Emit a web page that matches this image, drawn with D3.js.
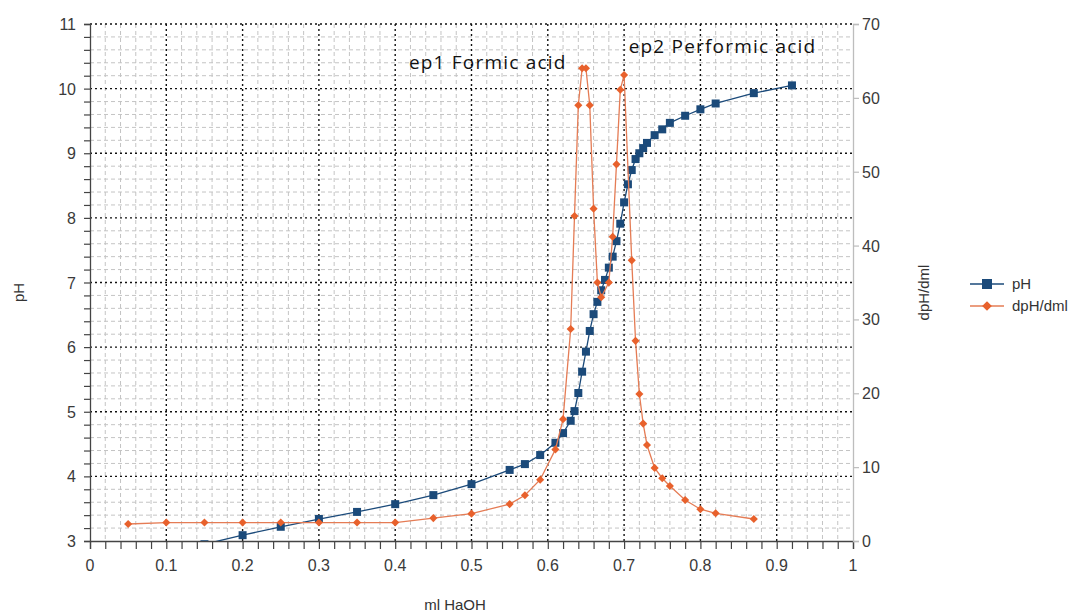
<!DOCTYPE html>
<html>
<head>
<meta charset="utf-8">
<script src="https://cdn.jsdelivr.net/npm/d3@7"></script>
<style>
  body { margin: 0; background: #fff; }
  svg { display: block; }
  .tick-label { font-family: "Liberation Sans", Arial, sans-serif; font-size: 16px; fill: #3a3a3a; }
  .axis-title { font-family: "Liberation Sans", Arial, sans-serif; font-size: 15px; fill: #333; }
  .note { font-family: "Open Sans", sans-serif; font-size: 19px; font-weight: 500; letter-spacing: 1.2px; fill: #111; }
</style>
</head>
<body>
<svg id="chart" width="1090" height="615"></svg>
<script>
// titration curve: pH (left axis) and first derivative dpH/dml (right axis)

const phVolume = [0.15, 0.2, 0.25, 0.3, 0.35, 0.4, 0.45, 0.5, 0.55, 0.57, 0.59, 0.61, 0.62, 0.63,
  0.635, 0.64, 0.645, 0.65, 0.655, 0.66, 0.665, 0.67, 0.675, 0.68, 0.685, 0.69, 0.695, 0.7,
  0.705, 0.71, 0.715, 0.72, 0.725, 0.73, 0.74, 0.75, 0.76, 0.78, 0.8, 0.82, 0.87, 0.92];
const phValues = [2.95, 3.09, 3.22, 3.34, 3.45, 3.57, 3.71, 3.88, 4.10, 4.19, 4.33, 4.52, 4.67, 4.86,
  5.01, 5.29, 5.62, 5.93, 6.25, 6.51, 6.70, 6.88, 7.04, 7.23, 7.40, 7.64, 7.91, 8.24,
  8.52, 8.74, 8.91, 9.00, 9.08, 9.16, 9.28, 9.37, 9.47, 9.58, 9.68, 9.77, 9.93, 10.05];

const dVolume = [0.05, 0.1, 0.15, 0.2, 0.25, 0.3, 0.35, 0.4, 0.45, 0.5, 0.55, 0.57, 0.59, 0.61, 0.62,
  0.63, 0.635, 0.64, 0.645, 0.65, 0.655, 0.66, 0.665, 0.67, 0.68, 0.685, 0.69, 0.695, 0.7,
  0.71, 0.715, 0.72, 0.725, 0.73, 0.74, 0.75, 0.76, 0.78, 0.8, 0.82, 0.87];
const dValues = [2.3, 2.5, 2.5, 2.5, 2.5, 2.5, 2.5, 2.5, 3.1, 3.7, 5.0, 6.2, 8.3, 12.4, 16.5,
  28.7, 44.0, 59.0, 64.0, 64.0, 59.0, 45.0, 35.0, 33.0, 35.0, 41.2, 51.0, 61.1, 63.1,
  38.0, 27.1, 19.9, 15.9, 13.0, 9.9, 8.5, 7.45, 5.55, 4.3, 3.75, 2.98];

const xTicks = [0, 0.1, 0.2, 0.3, 0.4, 0.5, 0.6, 0.7, 0.8, 0.9, 1];
const phTicks = [3, 4, 5, 6, 7, 8, 9, 10, 11];
const dTicks = [0, 10, 20, 30, 40, 50, 60, 70];

const notes = [
  { text: "ep1 Formic acid", x: 0.418, y: 10.3 },
  { text: "ep2 Performic acid", x: 0.706, y: 10.55 }
];

const blue = "#1b4a7a";
const orange = "#e8612c";
const orangeLine = "#e57c55";

const svg = d3.select("#chart");
const pL = 90, pR = 853, pT = 24, pB = 541;

const x = d3.scaleLinear().domain([0, 1]).range([pL, pR]);
const yL = d3.scaleLinear().domain([3, 11]).range([pB, pT]);
const yR = d3.scaleLinear().domain([0, 70]).range([pB, pT]);

svg.append("defs").append("clipPath").attr("id", "plot")
  .append("rect").attr("x", pL).attr("y", pT - 1)
  .attr("width", pR - pL).attr("height", pB - pT + 1);

// minor grid
const grid = svg.append("g");
const xMinor = d3.range(0, 1.0001, 0.02).filter(v => Math.abs(v * 10 - Math.round(v * 10)) > 1e-6);
const yMinor = d3.range(3, 11.0001, 0.2).filter(v => Math.abs(v - Math.round(v)) > 1e-6);

grid.selectAll(".vminor").data(xMinor).join("line")
  .attr("x1", d => x(d)).attr("x2", d => x(d))
  .attr("y1", pT).attr("y2", pB)
  .attr("stroke", "#c4c4c4").attr("stroke-width", 1).attr("stroke-dasharray", "4 3");
grid.selectAll(".hminor").data(yMinor).join("line")
  .attr("x1", pL).attr("x2", pR)
  .attr("y1", d => yL(d)).attr("y2", d => yL(d))
  .attr("stroke", "#c4c4c4").attr("stroke-width", 1).attr("stroke-dasharray", "4 3");

// major grid
grid.selectAll(".vmajor").data(xTicks.slice(1, -1)).join("line")
  .attr("x1", d => x(d)).attr("x2", d => x(d))
  .attr("y1", pT).attr("y2", pB)
  .attr("stroke", "#111").attr("stroke-width", 1.4).attr("stroke-dasharray", "2 3");
grid.selectAll(".hmajor").data(phTicks.slice(1)).join("line")
  .attr("x1", pL).attr("x2", pR)
  .attr("y1", d => yL(d)).attr("y2", d => yL(d))
  .attr("stroke", "#111").attr("stroke-width", 1.4).attr("stroke-dasharray", "2 3");

// axes
const xAxis = svg.append("g").attr("transform", `translate(0,${pB})`)
  .call(d3.axisBottom(x).tickValues(d3.range(0, 1.0001, 0.02)).tickSize(8).tickFormat(""));
xAxis.select(".domain").attr("stroke", "#444").attr("stroke-width", 1.3);
xAxis.selectAll(".tick line").attr("stroke", "#444").attr("stroke-width", 1.2);
svg.append("g").selectAll("text").data(xTicks).join("text")
  .attr("class", "tick-label")
  .attr("x", d => x(d)).attr("y", pB + 30)
  .attr("text-anchor", "middle")
  .text(d => d3.format("~g")(d));

const yAxis = svg.append("g").attr("transform", `translate(${pL},0)`)
  .call(d3.axisLeft(yL).tickValues(d3.range(3, 11.0001, 0.2)).tickSize(6).tickFormat(""));
yAxis.select(".domain").attr("stroke", "#444").attr("stroke-width", 1.3);
yAxis.selectAll(".tick line").attr("stroke", "#444").attr("stroke-width", 1.2);
svg.append("g").selectAll("text").data(phTicks).join("text")
  .attr("class", "tick-label")
  .attr("x", pL - 14).attr("y", d => yL(d) + 6)
  .attr("text-anchor", "end")
  .text(d => d);

const rAxis = svg.append("g").attr("transform", `translate(${pR},0)`)
  .call(d3.axisRight(yR).tickValues(dTicks).tickSize(6).tickFormat(""));
rAxis.select(".domain").attr("stroke", "#bdbdbd").attr("stroke-width", 1.3);
rAxis.selectAll(".tick line").attr("stroke", "#bdbdbd").attr("stroke-width", 1.2);
svg.append("g").selectAll("text").data(dTicks).join("text")
  .attr("class", "tick-label")
  .attr("x", pR + 9).attr("y", d => yR(d) + 6)
  .attr("text-anchor", "start")
  .text(d => d);

// axis titles
svg.append("text").attr("class", "axis-title")
  .attr("transform", `translate(24,${(pT + pB) / 2 + 10}) rotate(-90)`)
  .attr("text-anchor", "middle").text("pH");
svg.append("text").attr("class", "axis-title")
  .attr("transform", `translate(929,${(pT + pB) / 2 + 10}) rotate(-90)`)
  .attr("text-anchor", "middle").text("dpH/dml");
svg.append("text").attr("class", "axis-title")
  .attr("x", 455).attr("y", 610)
  .attr("text-anchor", "middle").text("ml HaOH");

// series
const plot = svg.append("g").attr("clip-path", "url(#plot)");
const phData = phVolume.map((v, i) => ({ v, y: phValues[i] }));
const dData = dVolume.map((v, i) => ({ v, y: dValues[i] }));

plot.append("path").datum(phData)
  .attr("fill", "none").attr("stroke", blue).attr("stroke-width", 1.3)
  .attr("d", d3.line().x(d => x(d.v)).y(d => yL(d.y)));
plot.selectAll(".sq").data(phData).join("rect")
  .attr("x", d => x(d.v) - 4).attr("y", d => yL(d.y) - 4)
  .attr("width", 8).attr("height", 8)
  .attr("fill", blue);

const diamond = d3.symbol().type(d3.symbolDiamond2).size(42);
plot.append("path").datum(dData)
  .attr("fill", "none").attr("stroke", orangeLine).attr("stroke-width", 1.3)
  .attr("d", d3.line().x(d => x(d.v)).y(d => yR(d.y)));
plot.selectAll(".dm").data(dData).join("path")
  .attr("transform", d => `translate(${x(d.v)},${yR(d.y)})`)
  .attr("d", diamond)
  .attr("fill", orange);

// annotations
svg.selectAll(".note").data(notes).join("text")
  .attr("class", "note")
  .attr("x", d => x(d.x)).attr("y", d => yL(d.y))
  .text(d => d.text);

// legend
const legend = svg.append("g").attr("transform", "translate(970,284)");
const items = [
  { label: "pH", color: blue, lineColor: blue, shape: "square" },
  { label: "dpH/dml", color: orange, lineColor: orangeLine, shape: "diamond" }
];
items.forEach((it, i) => {
  const g = legend.append("g").attr("transform", `translate(0,${i * 22})`);
  g.append("line").attr("x1", 0).attr("x2", 34).attr("y1", 0).attr("y2", 0)
    .attr("stroke", it.lineColor).attr("stroke-width", 1.3);
  if (it.shape === "square") {
    g.append("rect").attr("x", 12).attr("y", -5).attr("width", 10).attr("height", 10).attr("fill", it.color);
  } else {
    g.append("path").attr("transform", "translate(17,0)")
      .attr("d", d3.symbol().type(d3.symbolDiamond2).size(60)).attr("fill", it.color);
  }
  g.append("text").attr("class", "axis-title")
    .attr("x", 42).attr("y", 5).text(it.label);
});
</script>
</body>
</html>
